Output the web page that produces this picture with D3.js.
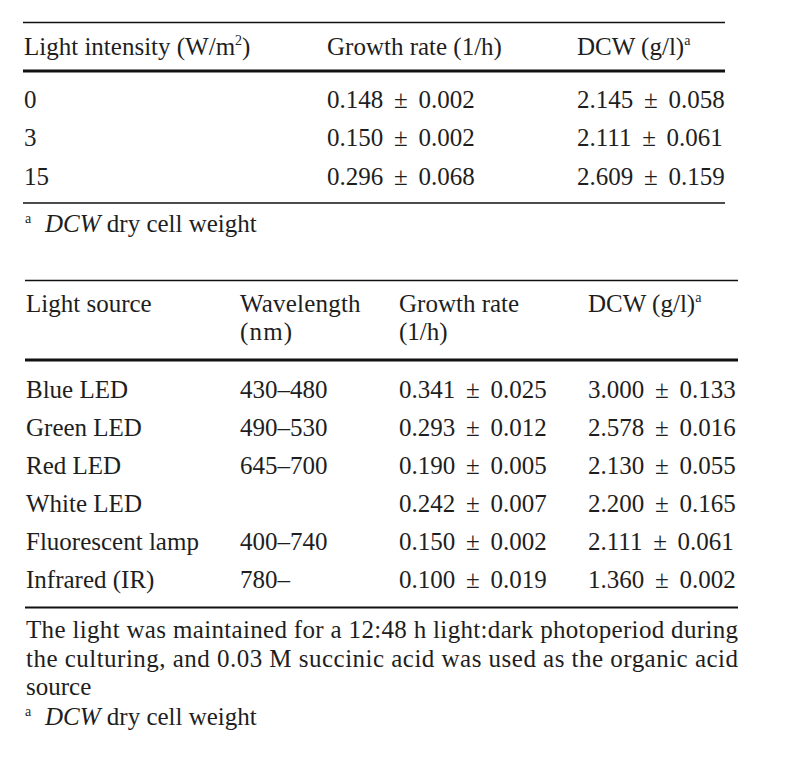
<!DOCTYPE html>
<html>
<head>
<meta charset="utf-8">
<script src="https://cdn.jsdelivr.net/npm/d3@7/dist/d3.min.js"></script>
<style>
  html, body { margin: 0; padding: 0; background: #fff; }
  svg text { font-family: "Liberation Serif", "Times New Roman", serif; fill: #1e1e1e; }
</style>
</head>
<body>
<svg id="chart" width="787" height="769"></svg>
<script>
// ---- Table 1 data ----
const intensities = ["0", "3", "15"];
const intensityGrowth = [0.148, 0.150, 0.296];
const intensityGrowthSd = [0.002, 0.002, 0.068];
const intensityDcw = [2.145, 2.111, 2.609];
const intensityDcwSd = [0.058, 0.061, 0.159];

// ---- Table 2 data ----
const sources = ["Blue LED", "Green LED", "Red LED", "White LED", "Fluorescent lamp", "Infrared (IR)"];
const wavelengths = ["430–480", "490–530", "645–700", "", "400–740", "780–"];
const sourceGrowth = [0.341, 0.293, 0.190, 0.242, 0.150, 0.100];
const sourceGrowthSd = [0.025, 0.012, 0.005, 0.007, 0.002, 0.019];
const sourceDcw = [3.000, 2.578, 2.130, 2.200, 2.111, 1.360];
const sourceDcwSd = [0.133, 0.016, 0.055, 0.165, 0.061, 0.002];

const noteLines = [
  "The light was maintained for a 12:48 h light:dark photoperiod during",
  "the culturing, and 0.03 M succinic acid was used as the organic acid",
  "source"
];

const fmt = d3.format(".3f");
const pm = (v, s) => fmt(v) + " \u00b1 " + fmt(s);
const FS = 25;

const svg = d3.select("#chart");

function hline(x1, x2, y, w) {
  svg.append("line").attr("x1", x1).attr("x2", x2).attr("y1", y).attr("y2", y)
    .attr("stroke", "#111").attr("stroke-width", w);
}
function text(x, y, s) {
  return svg.append("text").attr("x", x).attr("y", y).attr("font-size", FS).text(s);
}
function valText(x, y, s) {
  return text(x, y, s).attr("word-spacing", 4.5);
}
function supText(x, y, base, sup, after) {
  const t = svg.append("text").attr("x", x).attr("y", y).attr("font-size", FS);
  t.append("tspan").text(base);
  t.append("tspan").attr("font-size", 14).attr("dy", -10).text(sup);
  if (after) t.append("tspan").attr("dy", 10).text(after);
  return t;
}
function footnote(y) {
  const t = svg.append("text").attr("y", y).attr("font-size", FS);
  t.append("tspan").attr("x", 25).attr("dy", -9).attr("font-size", 14).text("a");
  t.append("tspan").attr("x", 45).attr("dy", 9).attr("font-style", "italic").text("DCW");
  t.append("tspan").text(" dry cell weight");
}

// ===== Table 1 =====
const x1 = d3.scaleOrdinal().domain(["label", "growth", "dcw"]).range([24, 327, 577]);
const y1 = d3.scaleLinear().domain([0, intensities.length - 1]).range([108, 184.8]);

hline(23, 725, 22.5, 1.5);
supText(x1("label"), 55, "Light intensity (W/m", "2", ")");
text(x1("growth"), 55, "Growth rate (1/h)");
supText(x1("dcw"), 55, "DCW (g/l)", "a");
hline(23, 725, 71, 3.2);

intensities.forEach((d, i) => {
  text(x1("label"), y1(i), d);
  valText(x1("growth"), y1(i), pm(intensityGrowth[i], intensityGrowthSd[i]));
  valText(x1("dcw"), y1(i), pm(intensityDcw[i], intensityDcwSd[i]));
});
hline(23, 725, 203, 1.5);
footnote(232);

// ===== Table 2 =====
const x2 = d3.scaleOrdinal().domain(["source", "wave", "growth", "dcw"]).range([26, 240, 399, 588]);
const y2 = d3.scaleLinear().domain([0, sources.length - 1]).range([398, 588]);

hline(25, 738, 280.5, 1.5);
text(x2("source"), 312, "Light source");
text(x2("wave"), 312, "Wavelength").attr("letter-spacing", 0.2);
text(x2("wave"), 340, "(nm)").attr("letter-spacing", 1.2);
text(x2("growth"), 312, "Growth rate");
text(x2("growth"), 340, "(1/h)");
supText(x2("dcw"), 312, "DCW (g/l)", "a");
hline(25, 738, 360, 3.2);

sources.forEach((d, i) => {
  text(x2("source"), y2(i), d);
  if (wavelengths[i]) text(x2("wave"), y2(i), wavelengths[i]);
  valText(x2("growth"), y2(i), pm(sourceGrowth[i], sourceGrowthSd[i]));
  valText(x2("dcw"), y2(i), pm(sourceDcw[i], sourceDcwSd[i]));
});
hline(25, 738, 607.5, 1.8);

const yNote = d3.scaleLinear().domain([0, 2]).range([638, 695]);
noteLines.forEach((s, i) => {
  const t = text(26, yNote(i), s);
  if (i < noteLines.length - 1) t.attr("textLength", 712).attr("lengthAdjust", "spacing");
});
footnote(725);
</script>
</body>
</html>
